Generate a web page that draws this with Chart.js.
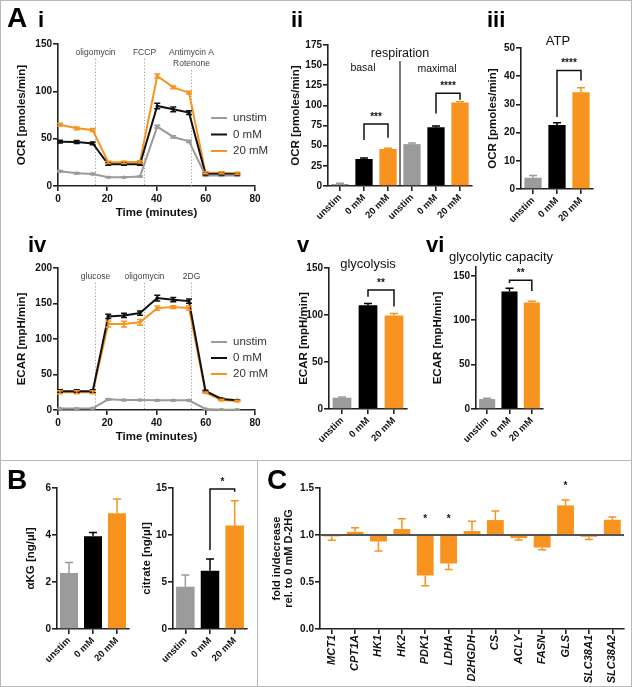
<!DOCTYPE html>
<html>
<head>
<meta charset="utf-8">
<script src="https://cdn.jsdelivr.net/npm/chart.js@4.4.1/dist/chart.umd.min.js"></script>
<style>
  html, body { margin: 0; padding: 0; background: #fff; }
  #fig { position: relative; width: 632px; height: 687px; overflow: hidden; font-family: "Liberation Sans", Arial, sans-serif; color: #111; }
  .rule { position: absolute; background: #b8b8b8; }
  .txt { position: absolute; white-space: nowrap; line-height: 1; z-index: 5; }
  canvas { position: absolute; }
</style>
</head>
<body>
<div id="fig">
  <div class="rule" style="left:0;top:0;width:632px;height:1px"></div>
  <div class="rule" style="left:0;top:686px;width:632px;height:1px"></div>
  <div class="rule" style="left:0;top:0;width:1px;height:687px"></div>
  <div class="rule" style="left:631px;top:0;width:1px;height:687px"></div>
  <div class="rule" style="left:0;top:460px;width:632px;height:1px"></div>
  <div class="rule" style="left:257px;top:460px;width:1px;height:227px"></div>
</div>
<script>
// ---- data ----
const time = [0.8, 7.6, 14.1, 20.4, 26.8, 33.3, 40.3, 46.8, 53.2, 59.9, 66.4, 72.8];
const timeTicks = [0, 20, 40, 60, 80];

const ocrUnstim = [15.5, 13.4, 12.7, 9.2, 9.2, 10.0, 62.7, 51.8, 47.2, 11.0, 11.0, 11.0];
const ocr0mM    = [46.8, 46.5, 45.0, 23.0, 23.0, 23.0, 84.5, 81.0, 77.5, 12.7, 12.7, 12.5];
const ocr20mM   = [64.8, 60.9, 59.2, 25.0, 25.0, 25.5, 116.2, 104.2, 98.6, 14.0, 14.0, 13.5];
const ocrUnstimErr = [0.8, 0.8, 0.8, 0.6, 0.6, 0.6, 1.5, 1.2, 1.2, 0.6, 0.6, 0.6];
const ocr0mMErr    = [1.5, 1.5, 1.5, 1.2, 1.2, 1.2, 3.0, 2.5, 2.0, 1.0, 1.0, 1.0];
const ocr20mMErr   = [1.5, 1.5, 1.5, 1.2, 1.2, 1.2, 2.0, 1.5, 1.5, 1.0, 1.0, 1.0];
const ocrTicks = [0, 50, 100, 150];
const ocrInject = [15, 35, 54];
const ocrInjectLabels = [['oligomycin'], ['FCCP'], ['Antimycin A', 'Rotenone']];

const ecarUnstim = [2.0, 2.0, 2.3, 15.0, 14.0, 14.0, 13.6, 13.6, 13.6, 1.5, 0.5, 0.5];
const ecar0mM    = [26.4, 26.4, 26.4, 131.8, 133.2, 136.5, 157.6, 155.3, 153.4, 26.8, 15.5, 13.6];
const ecar20mM   = [25.0, 25.0, 25.0, 121.0, 121.0, 123.5, 143.5, 145.0, 143.5, 24.5, 14.0, 12.7];
const ecarUnstimErr = [0.5, 0.5, 0.5, 0.8, 0.8, 0.8, 0.8, 0.8, 0.8, 0.5, 0.5, 0.5];
const ecar0mMErr    = [2, 2, 2, 3, 3, 3, 4, 3, 3, 1, 1, 1];
const ecar20mMErr   = [2, 2, 2, 4, 4, 4, 3, 2, 3, 1, 1, 1];
const ecarTicks = [0, 50, 100, 150, 200];
const ecarInject = [15, 35, 54];
const ecarInjectLabels = [['glucose'], ['oligomycin'], ['2DG']];

const groups = ['unstim', '0 mM', '20 mM'];
const groupColors = ['#9b9b9b', '#000000', '#f7931e'];

const respLabels = [...groups, ...groups];
const respValues = [2.5, 33.5, 46.0, 52.0, 73.0, 103.5];
const respErr    = [0.8, 1.2, 1.0, 1.5, 1.5, 1.2];
const respTicks  = [0, 25, 50, 75, 100, 125, 150, 175];

const atpValues = [4.0, 22.7, 34.3];
const atpErr    = [0.8, 0.8, 1.6];
const atpTicks  = [0, 10, 20, 30, 40, 50];

const glycoValues = [12.0, 110.5, 99.5];
const glycoErr    = [0.7, 1.8, 2.2];
const glycoTicks  = [0, 50, 100, 150];

const capValues = [11.2, 132.5, 120.0];
const capErr    = [0.8, 3.5, 1.3];
const capTicks  = [0, 50, 100, 150];

const akgValues = [2.38, 3.95, 4.93];
const akgErr    = [0.45, 0.16, 0.6];
const akgTicks  = [0, 2, 4, 6];

const citValues = [4.5, 6.2, 11.0];
const citErr    = [1.25, 1.25, 2.65];
const citTicks  = [0, 5, 10, 15];

const genes = ['MCT1', 'CPT1A', 'HK1', 'HK2', 'PDK1', 'LDHA', 'D2HGDH', 'CS', 'ACLY', 'FASN', 'GLS', 'SLC38A1', 'SLC38A2'];
const geneFold = [0.985, 1.034, 0.931, 1.063, 0.569, 0.697, 1.042, 1.159, 0.967, 0.867, 1.315, 0.981, 1.162];
const geneErr  = [0.04, 0.043, 0.1, 0.11, 0.11, 0.064, 0.103, 0.096, 0.021, 0.024, 0.057, 0.028, 0.029];
const foldTicks = [0, 0.5, 1.0, 1.5];

// ---- setup ----
const FONT = '"Liberation Sans", Arial, sans-serif';
Chart.defaults.font.family = FONT;
Chart.defaults.color = '#111';
const AX = '#222';
const fig = document.getElementById('fig');

function canvasAt(L, T, W, H) {
  const c = document.createElement('canvas');
  c.width = W; c.height = H;
  c.style.cssText = `left:${L}px;top:${T}px;width:${W}px;height:${H}px`;
  fig.appendChild(c);
  return c.getContext('2d');
}

function txt(s, cx, cy, size, weight) {
  const d = document.createElement('div');
  d.className = 'txt';
  d.textContent = s;
  d.style.cssText = `left:${cx}px;top:${cy}px;font-size:${size}px;font-weight:${weight || 'normal'};transform:translate(-50%,-50%)`;
  fig.appendChild(d);
}

function letter(s, x, baseline, size) {
  const d = document.createElement('div');
  d.className = 'txt';
  d.textContent = s;
  d.style.cssText = `left:${x}px;top:${baseline - 0.8465 * size}px;font-size:${size}px;font-weight:bold;color:#000`;
  fig.appendChild(d);
}

function yAxis(min, max, ticks, title, width, pad, fmt) {
  return {
    min, max,
    afterBuildTicks: s => { s.ticks = ticks.map(v => ({ value: v })); },
    afterFit: s => { s.width = width; },
    border: { color: AX, width: 1.6 },
    grid: { drawOnChartArea: false, color: AX, lineWidth: 1.6, tickLength: 5 },
    ticks: { font: { size: 10, weight: 'bold' }, padding: 1, callback: fmt || (v => v) },
    title: { display: true, text: title, font: { size: 11.5, weight: 'bold', lineHeight: 1.1 }, padding: { top: pad, bottom: 0 } }
  };
}

function xCat(labels, height, rot, italic, size) {
  return {
    type: 'category', labels, offset: true,
    afterFit: s => { s.height = height; },
    border: { color: AX, width: 1.6 },
    grid: { offset: false, drawOnChartArea: false, color: AX, lineWidth: 1.6, tickLength: 5 },
    ticks: { autoSkip: false, maxRotation: rot, minRotation: rot, padding: 1,
             font: { size: size || 9.5, weight: 'bold', style: italic ? 'italic' : 'normal' } }
  };
}

function xTime(height) {
  return {
    type: 'linear', min: 0, max: 80,
    afterBuildTicks: s => { s.ticks = timeTicks.map(v => ({ value: v })); },
    afterFit: s => { s.height = height; },
    border: { color: AX, width: 1.6 },
    grid: { drawOnChartArea: false, color: AX, lineWidth: 1.6, tickLength: 5 },
    ticks: { font: { size: 10, weight: 'bold' }, padding: 2 },
    title: { display: true, text: 'Time (minutes)', font: { size: 11.5, weight: 'bold', lineHeight: 1.2 }, padding: 0 }
  };
}

// ---- plugins ----
const errorBars = {
  id: 'errbars',
  afterDatasetsDraw(chart, args, o) {
    const ctx = chart.ctx, ys = chart.scales.y;
    ctx.save();
    ctx.lineWidth = 1.5;
    chart.data.datasets.forEach((ds, i) => {
      if (!ds.errors) return;
      const meta = chart.getDatasetMeta(i);
      meta.data.forEach((el, j) => {
        const raw = ds.data[j];
        const v = typeof raw === 'object' ? raw.y : raw;
        const e = ds.errors[j];
        const color = Array.isArray(ds.backgroundColor) ? ds.backgroundColor[j] : ds.borderColor;
        const base = ds.base !== undefined ? ds.base : 0;
        const lo = ds.bothWays ? v - e : (v >= base ? v : v - e);
        const hi = ds.bothWays ? v + e : (v >= base ? v + e : v);
        const y1 = ys.getPixelForValue(lo), y2 = ys.getPixelForValue(hi);
        const x = el.x, c = o.cap || 4;
        ctx.strokeStyle = color;
        ctx.beginPath();
        ctx.moveTo(x, y1); ctx.lineTo(x, y2);
        if (ds.bothWays || v >= base) { ctx.moveTo(x - c, y2); ctx.lineTo(x + c, y2); }
        if (ds.bothWays || v < base) { ctx.moveTo(x - c, y1); ctx.lineTo(x + c, y1); }
        ctx.stroke();
      });
    });
    ctx.restore();
  }
};

const brackets = {
  id: 'brackets',
  afterDraw(chart, args, o) {
    const { ctx, scales: { x, y } } = chart;
    ctx.save();
    ctx.strokeStyle = '#111'; ctx.fillStyle = '#111'; ctx.lineWidth = 1.5;
    ctx.font = `bold 10px ${FONT}`; ctx.textAlign = 'center'; ctx.textBaseline = 'middle';
    (o.items || []).forEach(b => {
      const x1 = x.getPixelForValue(b.from), x2 = x.getPixelForValue(b.to);
      const yt = y.getPixelForValue(b.top);
      ctx.beginPath();
      ctx.moveTo(x1, y.getPixelForValue(b.legs[0]));
      ctx.lineTo(x1, yt); ctx.lineTo(x2, yt);
      ctx.lineTo(x2, y.getPixelForValue(b.legs[1]));
      ctx.stroke();
      ctx.fillText(b.text, (x1 + x2) / 2, yt - 7);
    });
    (o.stars || []).forEach(s => {
      ctx.fillText(s.text, x.getPixelForValue(s.at), y.getPixelForValue(s.y));
    });
    ctx.restore();
  }
};

const injections = {
  id: 'injections',
  beforeDatasetsDraw(chart, args, o) {
    const { ctx, chartArea: a, scales: { x } } = chart;
    ctx.save();
    ctx.font = `8.5px ${FONT}`; ctx.textAlign = 'center'; ctx.textBaseline = 'middle';
    o.at.forEach((t, i) => {
      const px = Math.round(x.getPixelForValue(t)) + 0.5;
      const lines = o.labels[i];
      ctx.fillStyle = '#444';
      lines.forEach((s, k) => ctx.fillText(s, px, a.top + 9 + k * 11));
      ctx.strokeStyle = '#a0a0a0'; ctx.lineWidth = 1; ctx.setLineDash([1.2, 2]);
      ctx.beginPath();
      ctx.moveTo(px, a.top + 15 + (lines.length - 1) * 11);
      ctx.lineTo(px, a.bottom);
      ctx.stroke();
      ctx.setLineDash([]);
    });
    ctx.restore();
  }
};

const lineLegend = {
  id: 'lineLegend',
  afterDraw(chart, args, o) {
    const ctx = chart.ctx;
    ctx.save();
    ctx.font = `11.5px ${FONT}`; ctx.textBaseline = 'middle'; ctx.textAlign = 'left';
    chart.data.datasets.forEach((ds, i) => {
      const y = o.y + i * o.dy;
      ctx.strokeStyle = ds.borderColor; ctx.lineWidth = 2;
      ctx.beginPath(); ctx.moveTo(o.x, y); ctx.lineTo(o.x + 16, y); ctx.stroke();
      ctx.fillStyle = '#333';
      ctx.fillText(ds.label, o.x + 22, y);
    });
    ctx.restore();
  }
};

const guides = {
  id: 'guides',
  afterDatasetsDraw(chart, args, o) {
    const { ctx, chartArea: a, scales: { x, y } } = chart;
    ctx.save();
    if (o.refValue !== undefined) {
      const py = y.getPixelForValue(o.refValue);
      ctx.strokeStyle = '#555'; ctx.lineWidth = 2;
      ctx.beginPath(); ctx.moveTo(a.left, py); ctx.lineTo(a.right, py); ctx.stroke();
    }
    if (o.split !== undefined) {
      const px = (x.getPixelForValue(o.split) + x.getPixelForValue(o.split + 1)) / 2;
      ctx.strokeStyle = '#222'; ctx.lineWidth = 1.2;
      ctx.beginPath(); ctx.moveTo(px, y.getPixelForValue(o.splitTop)); ctx.lineTo(px, a.bottom); ctx.stroke();
    }
    ctx.restore();
  }
};

// ---- chart builders ----
function lineSet(label, vals, errs, color) {
  return {
    label, data: time.map((t, i) => ({ x: t, y: vals[i] })), errors: errs, bothWays: true,
    borderColor: color, backgroundColor: color, borderWidth: 2,
    pointRadius: 1.8, pointBackgroundColor: color, pointBorderWidth: 0, tension: 0
  };
}

function timeChart(box, sets, yMax, yTicks, yTitle, inject, injectLabels, legendPos) {
  const [L, T, W, H, yw, pt, pr, xh, pad] = box;
  new Chart(canvasAt(L, T, W, H), {
    type: 'line',
    data: { datasets: sets },
    options: {
      responsive: false, animation: false, devicePixelRatio: 1,
      layout: { padding: { top: pt, right: pr, left: 0, bottom: 0 }, autoPadding: false },
      plugins: { legend: { display: false }, tooltip: { enabled: false },
                 errbars: { cap: 3 }, injections: { at: inject, labels: injectLabels }, lineLegend: legendPos },
      scales: { x: xTime(xh), y: yAxis(0, yMax, yTicks, yTitle, yw, pad) }
    },
    plugins: [injections, errorBars, lineLegend]
  });
}

function barChart(box, labels, vals, errs, colors, yMin, yMax, yTicks, yTitle, extra) {
  const [L, T, W, H, yw, pt, pr, xh, pad] = box;
  extra = extra || {};
  const ds = { data: vals, errors: errs, backgroundColor: colors, borderWidth: 0,
               barPercentage: extra.barPct || 0.72, categoryPercentage: 1 };
  if (extra.base !== undefined) ds.base = extra.base;
  const y = yAxis(yMin, yMax, yTicks, yTitle, yw, pad, extra.fmt);
  if (extra.titleSize) y.title.font.size = extra.titleSize;
  new Chart(canvasAt(L, T, W, H), {
    type: 'bar',
    data: { labels, datasets: [ds] },
    options: {
      responsive: false, animation: false, devicePixelRatio: 1,
      layout: { padding: { top: pt, right: pr, left: 0, bottom: 0 }, autoPadding: false },
      plugins: { legend: { display: false }, tooltip: { enabled: false },
                 errbars: { cap: extra.cap || 4 }, brackets: { items: extra.sig || [], stars: extra.stars || [] },
                 guides: extra.guides || {} },
      scales: { x: xCat(labels, xh, extra.rot || 45, extra.italic, extra.labelSize), y }
    },
    plugins: [errorBars, brackets, guides]
  });
}

// A i : OCR time course   [L, T, W, H, yAxisWidth, padTop, padRight, xAxisHeight, yTitlePad]
timeChart([0, 30, 282, 190, 58, 14, 27, 34, 16], [
  lineSet('unstim', ocrUnstim, ocrUnstimErr, '#9b9b9b'),
  lineSet('0 mM', ocr0mM, ocr0mMErr, '#111111'),
  lineSet('20 mM', ocr20mM, ocr20mMErr, '#f7931e')
], 150, ocrTicks, 'OCR [pmoles/min]', ocrInject, ocrInjectLabels, { x: 211, y: 88, dy: 16.5 });

// A iv : ECAR time course
timeChart([0, 255, 282, 189, 58, 13, 27, 34, 16], [
  lineSet('unstim', ecarUnstim, ecarUnstimErr, '#9b9b9b'),
  lineSet('0 mM', ecar0mM, ecar0mMErr, '#111111'),
  lineSet('20 mM', ecar20mM, ecar20mMErr, '#f7931e')
], 200, ecarTicks, 'ECAR [mpH/min]', ecarInject, ecarInjectLabels, { x: 211, y: 87, dy: 16 });

// A ii : respiration
barChart([288, 30, 190, 200, 40, 15, 6, 44, 2], respLabels, respValues, respErr,
  [...groupColors, ...groupColors], 0, 175, respTicks, 'OCR [pmoles/min]', {
    sig: [{ from: 1, to: 2, top: 77, legs: [57, 60], text: '***' },
          { from: 4, to: 5, top: 115, legs: [90, 107], text: '****' }],
    guides: { split: 2, splitTop: 155 }
  });

// A iii : ATP
barChart([478, 30, 150, 200, 43, 18, 35, 41, 9], groups, atpValues, atpErr, groupColors,
  0, 50, atpTicks, 'OCR [pmoles/min]', {
    sig: [{ from: 1, to: 2, top: 42, legs: [25.5, 38.5], text: '****' }]
  });

// A v : glycolysis
barChart([290, 255, 125, 195, 39, 13, 8, 41, 8], groups, glycoValues, glycoErr, groupColors,
  0, 150, glycoTicks, 'ECAR [mpH/min]', {
    sig: [{ from: 1, to: 2, top: 126.5, legs: [119.5, 109], text: '**' }]
  });

// A vi : glycolytic capacity
barChart([432, 255, 120, 195, 44, 12, 9, 41, 0], groups, capValues, capErr, groupColors,
  0, 160, capTicks, 'ECAR [mpH/min]', {
    sig: [{ from: 1, to: 2, top: 145, legs: [142, 133], text: '**' }]
  });

// B : aKG and citrate
barChart([0, 470, 135, 216, 57, 18, 6, 57, 25], groups, akgValues, akgErr, groupColors,
  0, 6, akgTicks, '\u03b1KG [ng/\u00b5l]', { barPct: 0.75 });
barChart([135, 470, 118, 216, 38, 18, 6, 57, 6], groups, citValues, citErr, groupColors,
  0, 15, citTicks, 'citrate [ng/\u00b5l]', {
    barPct: 0.75,
    sig: [{ from: 1, to: 2, top: 14.9, legs: [8.4, 14.6], text: '*' }]
  });

// C : gene expression
barChart([262, 470, 369, 216, 58, 18, 7, 57, 9], genes, geneFold, geneErr, genes.map(() => '#f7931e'),
  0, 1.5, foldTicks, ['fold in/decrease', 'rel. to 0 mM D-2HG'], {
    base: 1, rot: 90, italic: true, labelSize: 11, titleSize: 11, fmt: v => v.toFixed(1),
    stars: [{ at: 4, y: 1.17, text: '*' }, { at: 5, y: 1.17, text: '*' }, { at: 10, y: 1.52, text: '*' }],
    guides: { refValue: 1 }
  });

// ---- panel letters and titles ----
letter('A', 7, 28, 28);
letter('i', 38, 28, 22);
letter('ii', 291, 28, 22);
letter('iii', 487, 28, 22);
letter('iv', 28, 253, 22);
letter('v', 297, 253, 22);
letter('vi', 426, 253, 22);
letter('B', 7, 490, 28);
letter('C', 267, 490, 28);

txt('respiration', 400, 53, 12.5);
txt('basal', 363, 67, 10.5);
txt('maximal', 437, 68, 10.5);
txt('ATP', 558, 40, 13);
txt('glycolysis', 368, 263, 13);
txt('glycolytic capacity', 501, 256, 13);
</script>
</body>
</html>
